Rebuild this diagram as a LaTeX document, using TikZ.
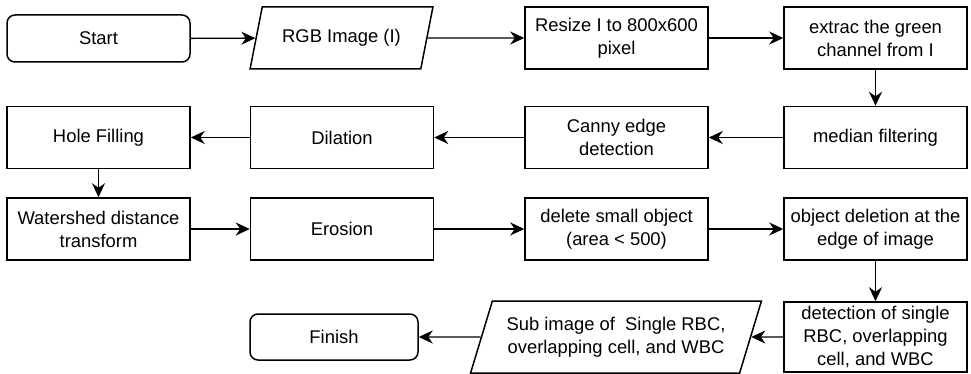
\documentclass[tikz,border=0pt]{standalone}
\usepackage{fontspec}
\setmainfont{Liberation Sans}
\usepackage{tikz}
\usetikzlibrary{arrows.meta}
\usetikzlibrary{shapes.geometric}
\tikzset{arrow/.style = {-{Stealth[length = 14pt, width = 13pt, inset = 4.5pt]}, line width = 1.4pt}}
\tikzset{proc/.style = {draw, line width = 1.5pt, fill = white, minimum width = 183pt, minimum height = 62pt, align = center, inner sep = 2pt, font = \fontsize{18.4}{23}\selectfont}}
\tikzset{term/.style = {proc, rounded corners = 8pt, minimum height = 47pt}}
\tikzset{data/.style = {proc, trapezium, trapezium left angle = 66, trapezium right angle = 114, trapezium stretches = true}}

\begin{document}
\begin{tikzpicture}[x=1pt,y=-1pt]
\useasboundingbox (0,0) rectangle (971,374);

% first row
\node[term] (start) at ( 98.5, 38.5) {Start};
\node[data] (rgb) at (341.5, 38.0) {RGB Image (I)};
\node[proc] (resize) at (616.5, 38.0) {Resize I to 800x600\\pixel};
\node[proc] (green) at (875.5, 38.0) {extrac the green\\channel from I};

% second row
\node[proc] (median) at (875.5,137.5) {median filtering};
\node[proc] (canny) at (616.5,137.5) {Canny edge\\detection};
\node[proc] (dilation) at (342.0,137.5) {Dilation};
\node[proc] (hole) at ( 98.5,137.5) {Hole Filling};

% third row
\node[proc] (water) at ( 98.5,229.0) {Watershed distance\\transform};
\node[proc] (erosion) at (342.0,229.0) {Erosion};
\node[proc] (small) at (616.5,229.0) {delete small object\\(area < 500)};
\node[proc] (edge) at (875.5,229.0) {object deletion at the\\edge of image};

% last row
\node[proc, minimum height = 70pt] (detect) at (875.5,337.0) {detection of single\\RBC, overlapping\\cell, and WBC};
\node[data, minimum width = 292pt, minimum height = 72pt] (sub) at (616.0,337.0) {Sub image of \ Single RBC,\\overlapping cell, and WBC};
\node[term, minimum width = 168pt, minimum height = 46pt] (finish) at (334.0,337.0) {Finish};

\draw[arrow] (start) -- (rgb);
\draw[arrow] (rgb) -- (resize);
\draw[arrow] (resize) -- (green);
\draw[arrow] (green) -- (median);
\draw[arrow] (median) -- (canny);
\draw[arrow] (canny) -- (dilation);
\draw[arrow] (dilation) -- (hole);
\draw[arrow] (hole) -- (water);
\draw[arrow] (water) -- (erosion);
\draw[arrow] (erosion) -- (small);
\draw[arrow] (small) -- (edge);
\draw[arrow] (edge) -- (detect);
\draw[arrow] (detect) -- (sub);
\draw[arrow] (sub) -- (finish);
\end{tikzpicture}
\end{document}
